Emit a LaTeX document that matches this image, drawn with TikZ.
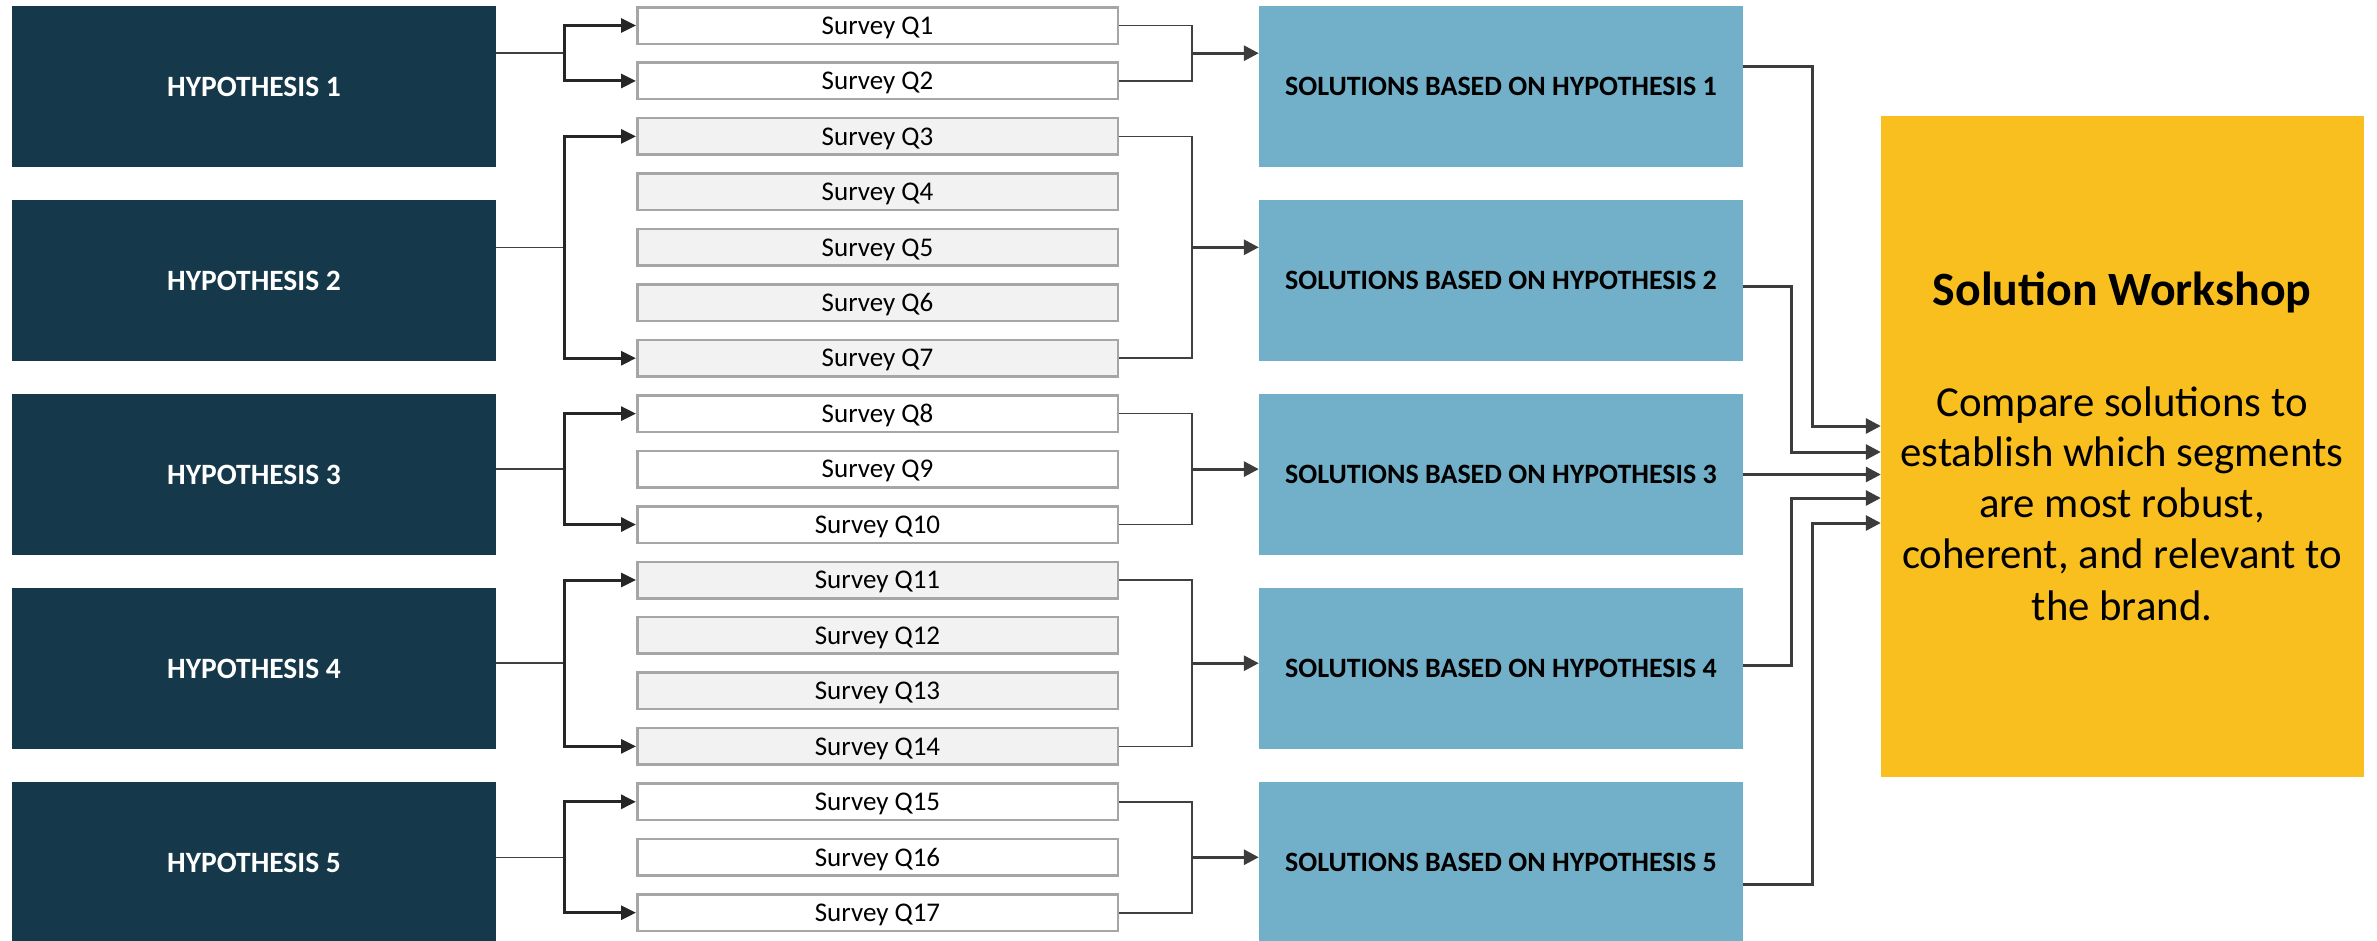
\documentclass[tikz,border=0pt]{standalone}
\usepackage{fontspec}
\setmainfont{Carlito}
\usetikzlibrary{arrows.meta}
\definecolor{hypo}{HTML}{15394A}
\definecolor{solblue}{HTML}{72B0C9}
\definecolor{wsyellow}{HTML}{F9BF1E}
\definecolor{qgray}{HTML}{F2F2F2}
\definecolor{qborder}{HTML}{A6A6A6}
\definecolor{thinln}{HTML}{404040}
\definecolor{darkln}{HTML}{262626}
\begin{document}
\begin{tikzpicture}[x=1pt,y=-1pt,
  hbox/.style={fill=hypo, draw=none, minimum width=484pt, minimum height=161pt, inner sep=0pt, text height=19pt, text depth=0pt, text=white, font=\fontsize{29.5}{35}\selectfont\bfseries},
  sbox/.style={fill=solblue, draw=none, minimum width=484pt, minimum height=161pt, inner sep=0pt, text height=18pt, text depth=0pt, text=black, font=\fontsize{28}{34}\selectfont\bfseries},
  qbox/.style={draw=qborder, line width=2.5pt, minimum width=480.5pt, minimum height=36.5pt, inner sep=0pt, text height=17.5pt, text depth=0pt, font=\fontsize{27}{32}\selectfont},
  wsbox/.style={fill=wsyellow, draw=none, minimum width=483pt, minimum height=661pt, inner sep=0pt},
  wstitle/.style={anchor=base, inner sep=0pt, font=\fontsize{47.8}{57}\selectfont\bfseries},
  wsline/.style={anchor=base, inner sep=0pt, font=\fontsize{42.8}{51}\selectfont},
  feed/.style={draw=thinln, line width=1.5pt},
  branch/.style={draw=darkln, line width=3pt, -{Triangle[length=15pt,width=14pt]}},
  merge/.style={draw=thinln, line width=1.6pt},
  outl/.style={draw=darkln!90, line width=3pt, -{Triangle[length=15pt,width=15pt]}}
]
\useasboundingbox (0,0) rectangle (2377,940);

% hypotheses
\node[hbox] (H1) at (254,86.5) {HYPOTHESIS 1};
\node[hbox] (H2) at (254,280.5) {HYPOTHESIS 2};
\node[hbox] (H3) at (254,474.5) {HYPOTHESIS 3};
\node[hbox] (H4) at (254,668.5) {HYPOTHESIS 4};
\node[hbox] (H5) at (254,862.5) {HYPOTHESIS 5};

% solutions
\node[sbox] (S1) at (1501,86.5) {SOLUTIONS BASED ON HYPOTHESIS 1};
\node[sbox] (S2) at (1501,280.5) {SOLUTIONS BASED ON HYPOTHESIS 2};
\node[sbox] (S3) at (1501,474.5) {SOLUTIONS BASED ON HYPOTHESIS 3};
\node[sbox] (S4) at (1501,668.5) {SOLUTIONS BASED ON HYPOTHESIS 4};
\node[sbox] (S5) at (1501,862.5) {SOLUTIONS BASED ON HYPOTHESIS 5};

% survey questions
\foreach \k in {1,2,8,9,10,15,16,17} {
  \pgfmathsetmacro\yy{25.5+(\k-1)*55.45}
  \node[qbox, fill=white] (Q\k) at (877.5,\yy) {Survey Q\k};
}
\foreach \k in {3,4,5,6,7,11,12,13,14} {
  \pgfmathsetmacro\yy{25.5+(\k-1)*55.45}
  \node[qbox, fill=qgray] (Q\k) at (877.5,\yy) {Survey Q\k};
}

% workshop
\node[wsbox] (ws) at (2122.5,446.5) {};
\node[wstitle] (wsT) at (2122,305) {Solution Workshop};
\node[wsline] (wsL1) at (2122,416) {Compare solutions to};
\node[wsline] (wsL2) at (2122,466.5) {establish which segments};
\node[wsline] (wsL3) at (2122,517.5) {are most robust,};
\node[wsline] (wsL4) at (2122,568.5) {coherent, and relevant to};
\node[wsline] (wsL5) at (2122,620) {the brand.};

% branch points (left) and merge points (right)
\coordinate (b1) at (564,53.2);
\coordinate (b2) at (564,247.3);
\coordinate (b3) at (564,469.1);
\coordinate (b4) at (564,663.2);
\coordinate (b5) at (564,857.25);
\coordinate (r1) at (1192,53.2);
\coordinate (r2) at (1192,247.3);
\coordinate (r3) at (1192,469.1);
\coordinate (r4) at (1192,663.2);
\coordinate (r5) at (1192,857.25);

% hypothesis -> questions
\foreach \h/\a/\z in {1/1/2, 2/3/7, 3/8/10, 4/11/14, 5/15/17} {
  \draw[feed] (H\h.east |- b\h) -- (b\h);
  \draw[branch] (b\h) |- (Q\a.west);
  \draw[branch] (b\h) |- (Q\z.west);
  \draw[merge] (Q\a.east) -| (r\h);
  \draw[merge] (Q\z.east) -| (r\h);
  \draw[outl] (r\h) -- (S\h.west |- r\h);
}

% solutions -> workshop
\coordinate (k1) at (1812,426);
\coordinate (k2) at (1791,452);
\coordinate (k3) at (1791,474.5);
\coordinate (k4) at (1791,498);
\coordinate (k5) at (1812,523);
\draw[outl] (S1.east |- 0,66) -| (k1) -- (ws.west |- k1);
\draw[outl] (S2.east |- 0,286) -| (k2) -- (ws.west |- k2);
\draw[outl] (S3.east |- k3) -- (ws.west |- k3);
\draw[outl] (S4.east |- 0,665) -| (k4) -- (ws.west |- k4);
\draw[outl] (S5.east |- 0,884) -| (k5) -- (ws.west |- k5);
\end{tikzpicture}
\end{document}
